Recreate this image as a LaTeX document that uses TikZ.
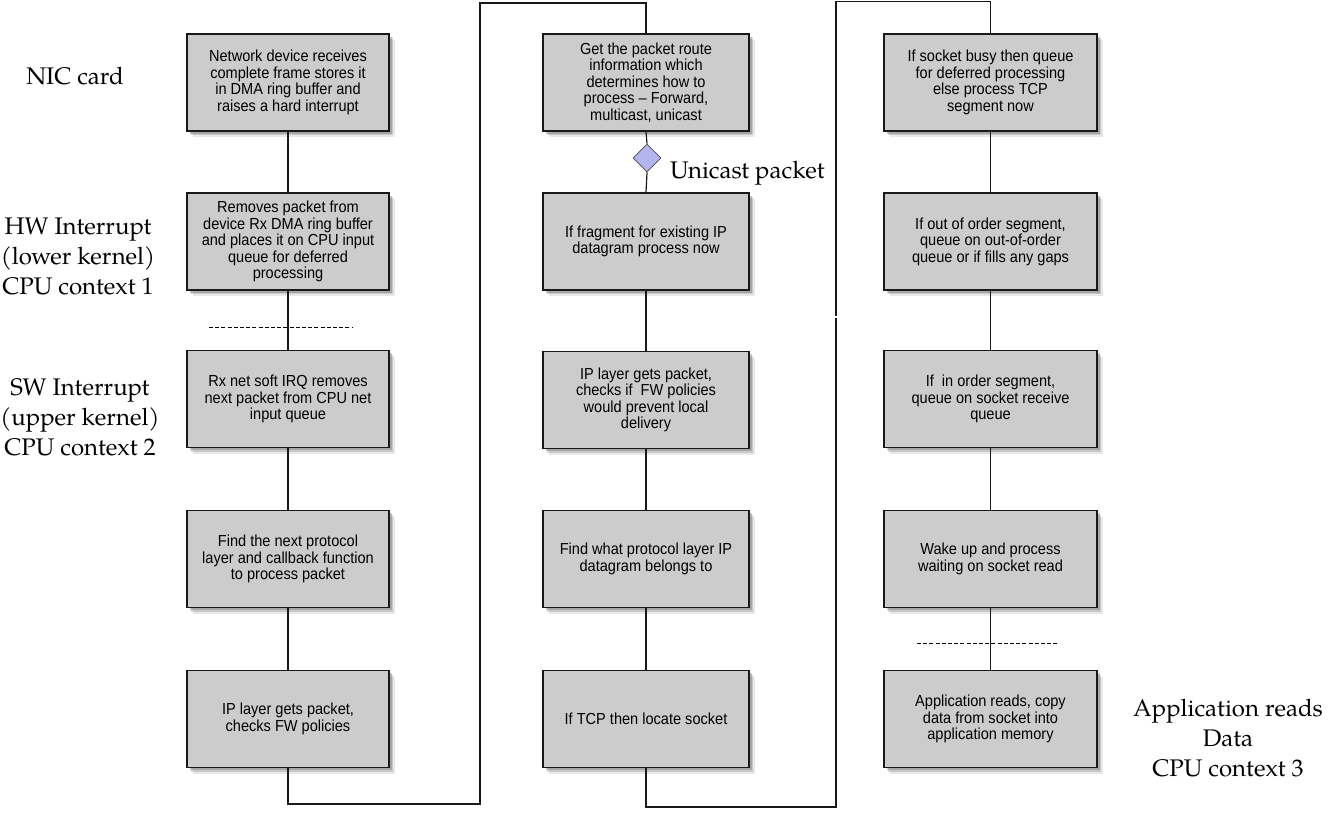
\documentclass[tikz,border=0pt]{standalone}
\usepackage{fontspec}
\newfontfamily\boxfont[FakeStretch=0.91]{Liberation Sans}
\newfontfamily\labelfont{TeX Gyre Pagella}
\usetikzlibrary{shapes.geometric,shadows}
\definecolor{boxgray}{RGB}{204,204,204}
\definecolor{diamfill}{RGB}{180,180,238}
\begin{document}
\begin{tikzpicture}[x=1pt,y=-1pt,
  stepbox/.style={draw=black!90, line width=1.3pt, fill=boxgray, align=center,
    inner sep=0pt, minimum height=97pt,
    font=\boxfont\fontsize{16}{16.5}\selectfont,
    drop shadow={shadow xshift=6pt,shadow yshift=-6pt,fill=black!60,opacity=0.15},
    drop shadow={shadow xshift=4pt,shadow yshift=-4pt,fill=black!60,opacity=0.25},
    drop shadow={shadow xshift=2.5pt,shadow yshift=-2.5pt,fill=black!60,opacity=0.35}},
  colA/.style={stepbox,minimum width=202pt},
  colB/.style={stepbox,minimum width=206pt},
  colC/.style={stepbox,minimum width=213pt},
  conn/.style={line width=1.2pt, draw=black!90},
  lbl/.style={font=\labelfont\fontsize{24}{30}\selectfont, align=center, inner sep=0pt},
  sepline/.style={dash pattern=on 4pt off 2.2pt, line width=0.9pt}]
\useasboundingbox (0,0) rectangle (1340,828);

% column 1
\node[colA] (a1) at (288,82.5) {Network device receives\\complete frame stores it\\in DMA ring buffer and\\raises a hard interrupt};
\node[colA] (a2) at (288,241.5) {\fontsize{16}{17.5}\selectfont Removes packet from\\device Rx DMA ring buffer\\and places it on CPU input\\queue for deferred\\processing};
\node[colA] (a3) at (288,399) {Rx net soft IRQ removes\\next packet from CPU net\\input queue};
\node[colA] (a4) at (288,559) {Find the next protocol\\layer and callback function\\to process packet};
\node[colA] (a5) at (288,719) {IP layer gets packet,\\checks FW policies};

% column 2
\node[colB] (b1) at (646,82.5) {Get the packet route\\information which\\determines how to\\process – Forward,\\multicast, unicast};
\node[colB] (b2) at (646,241.5) {If fragment for existing IP\\datagram process now};
\node[colB] (b3) at (646,400) {IP layer gets packet,\\checks if\ \ FW policies\\would prevent local\\delivery};
\node[colB] (b4) at (646,559) {Find what protocol layer IP\\datagram belongs to};
\node[colB] (b5) at (646,719) {If TCP then locate socket};

% column 3
\node[colC] (c1) at (990.5,82.5) {If socket busy then queue\\for deferred processing\\else process TCP\\segment now};
\node[colC] (c2) at (990.5,241.5) {If out of order segment,\\queue on out-of-order\\queue or if fills any gaps};
\node[colC] (c3) at (990.5,399) {If\ \ in order segment,\\queue on socket receive\\queue};
\node[colC] (c4) at (990.5,559) {Wake up and process\\waiting on socket read};
\node[colC] (c5) at (990.5,719) {Application reads, copy\\data from socket into\\application memory};

% diamond
\node[diamond, draw=black!70, fill=diamfill, line width=0.8pt, minimum width=28pt,
  minimum height=28pt, inner sep=0pt] (d) at (647,158) {};
\node[lbl, anchor=west] (uni) at (670,173) {Unicast packet};

% side labels
\node[lbl] (nic) at (75,76) {NIC card};
\node[lbl] (hw) at (78,256) {HW Interrupt\\(lower kernel)\\CPU context 1};
\node[lbl] (sw) at (80,417) {SW Interrupt\\(upper kernel)\\CPU context 2};
\node[lbl] (app) at (1228,738) {Application reads\\Data\\CPU context 3};

% connectors column 1
\draw[conn] (a1.south) -- (a2.north);
\draw[conn] (a2.south) -- (a3.north);
\draw[conn] (a3.south) -- (a4.north);
\draw[conn] (a4.south) -- (a5.north);
\coordinate (p1) at (480,804);
\coordinate (p2) at (646,3);
\draw[conn] (a5.south) |- (p1) |- (p2) -- (b1.north);

% connectors column 2
\draw[conn] (b1.south) -- (d.north);
\draw[conn] (d.south) -- (b2.north);
\draw[conn] (b2.south) -- (b3.north);
\draw[conn] (b3.south) -- (b4.north);
\draw[conn] (b4.south) -- (b5.north);
\coordinate (p3) at (836,807);
\coordinate (p4) at (836,318);
\coordinate (p5) at (836,315.5);
\coordinate (p6) at (990.5,1.2);
\draw[conn] (b5.south) |- (p3) -- (p4);
\draw[conn] (p5) |- (p6) -- (c1.north);

% connectors column 3
\draw[conn] (c1.south) -- (c2.north);
\draw[conn] (c2.south) -- (c3.north);
\draw[conn] (c3.south) -- (c4.north);
\draw[conn] (c4.south) -- (c5.north);

% separators
\draw[sepline] (209,327) -- (352,327);
\draw[sepline] (917,643) -- (1058,643);
\end{tikzpicture}
\end{document}
